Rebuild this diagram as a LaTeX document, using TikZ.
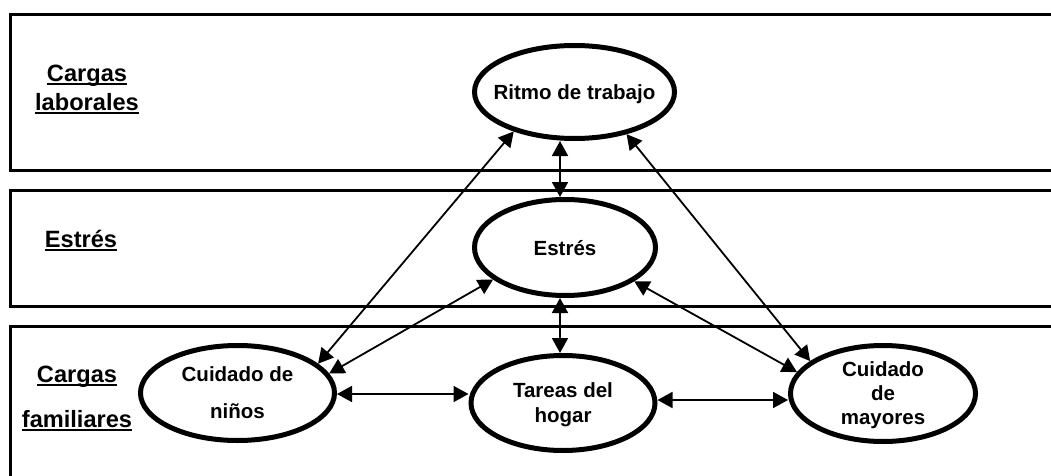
\documentclass[tikz,border=0pt]{standalone}
\usepackage{fontspec}
\setmainfont{Liberation Sans}
\usetikzlibrary{shapes.geometric,arrows.meta}
\newcommand\ulword[1]{\setbox0=\hbox{#1}\rlap{\rule[-4pt]{\wd0}{2pt}}\box0}
\begin{document}
\begin{tikzpicture}[x=1pt,y=-1pt,
  band/.style={line width=3pt,line cap=butt},
  ell/.style={ellipse,draw,line width=5pt,inner sep=0pt,outer sep=2.5pt,
    align=center,text depth=0pt,font=\fontsize{20.5}{24}\selectfont\bfseries},
  lab/.style={inner sep=0pt,align=center,font=\fontsize{23.6}{29}\selectfont\bfseries},
  arr/.style={line width=1.8pt,{Triangle[length=15pt,width=16pt]}-{Triangle[length=15pt,width=16pt]}}]
\useasboundingbox (0,0) rectangle (1051,476);
% bands
\draw[band] (1051,15) -- (10,15) -- (10,170) -- (1051,170);
\draw[band] (1051,190) -- (10,190) -- (10,306) -- (1051,306);
\draw[band] (1051,326) -- (10,326) -- (10,476);
% labels
\node[lab,anchor=north] (l1) at (87,64.6) {\ulword{Cargas}\\\ulword{laborales}};
\node[lab,anchor=base] (l2) at (81,247) {\ulword{Estrés}};
\node[lab,anchor=north,font=\fontsize{23.6}{45}\selectfont\bfseries] (l3) at (77,365.6) {\ulword{Cargas}\\\ulword{familiares}};
% ellipses
\node[ell,minimum width=200pt,minimum height=93pt] (ritmo) at (574.5,92) {\makebox[0pt][c]{Ritmo de trabajo}};
\node[ell,minimum width=181pt,minimum height=96pt] (estres) at (565,247.5) {Estrés};
\node[ell,minimum width=194pt,minimum height=95pt] (ninos) at (237.5,393) {Cuidado de\\[13pt]niños};
\node[ell,minimum width=184pt,minimum height=95pt,font=\fontsize{20.5}{25}\selectfont\bfseries] (tareas) at (563,403) {Tareas del\\hogar};
\node[ell,minimum width=185pt,minimum height=96pt] (mayores) at (883,393.5) {Cuidado\\de\\mayores};
% helper coordinates
\coordinate (axis) at (560,0);
\coordinate (h1) at (0,394);
\coordinate (h2) at (0,400);
% connectors
\draw[arr] (ritmo.south -| axis) -- (estres.north -| axis);
\draw[arr] (estres.south -| axis) -- (tareas.north -| axis);
\draw[arr] (ritmo.213.1) -- (ninos.20.4);
\draw[arr] (ritmo.321.7) -- (mayores.156.9);
\draw[arr] (estres.204.6) -- (ninos.12.8);
\draw[arr] (estres.334.3) -- (mayores.166.3);
\draw[arr] (ninos.east |- h1) -- (tareas.west |- h1);
\draw[arr] (tareas.east |- h2) -- (mayores.west |- h2);
\end{tikzpicture}
\end{document}
